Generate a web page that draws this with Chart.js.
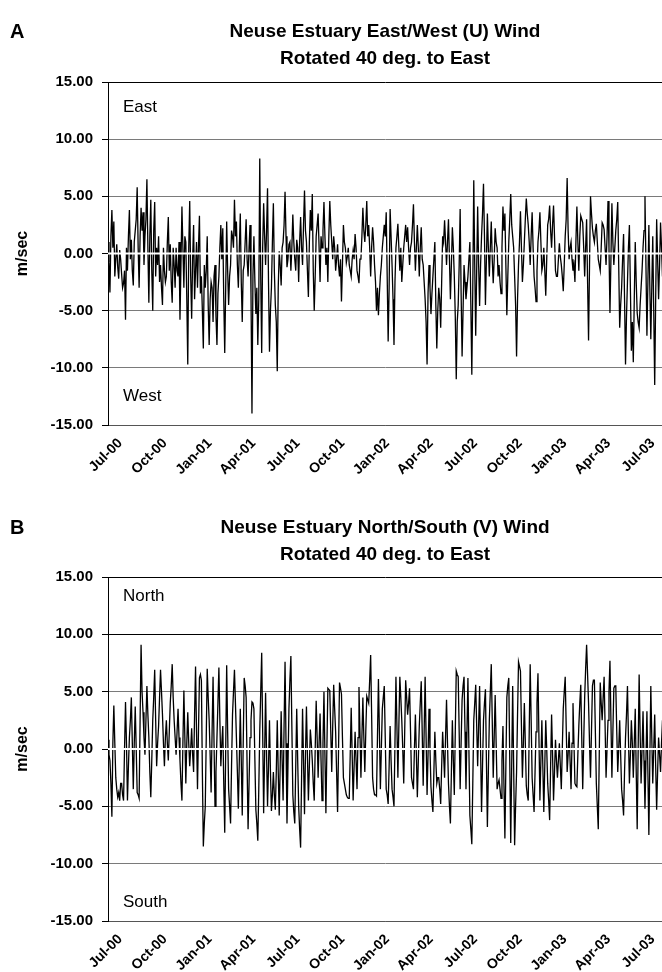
<!DOCTYPE html>
<html>
<head>
<meta charset="utf-8">
<script src="https://cdn.jsdelivr.net/npm/chart.js@4.4.1/dist/chart.umd.min.js"></script>
<style>
  html, body { margin: 0; padding: 0; background: #fff; overflow: hidden; }
  .panel { position: absolute; left: 0; width: 662px; }
  #panelA { top: 0; height: 476px; }
  #panelB { top: 495px; height: 477px; }
</style>
</head>
<body>
<div class="panel" id="panelA"><canvas id="chartU"></canvas></div>
<div class="panel" id="panelB"><canvas id="chartV"></canvas></div>
<script>
// sampling of the series: main readings every 4 days from early June 2000,
// the "mid" readings fall two days after each main one
const startDate = '2000-06-06';
const endDate = '2003-07-20';
const stepDays = 4;

const tickDates = ['2000-07-01', '2000-10-01', '2001-01-01', '2001-04-01', '2001-07-01', '2001-10-01',
  '2002-01-01', '2002-04-01', '2002-07-01', '2002-10-01', '2003-01-01', '2003-04-01', '2003-07-01'];
const tickLabels = ['Jul-00', 'Oct-00', 'Jan-01', 'Apr-01', 'Jul-01', 'Oct-01',
  'Jan-02', 'Apr-02', 'Jul-02', 'Oct-02', 'Jan-03', 'Apr-03', 'Jul-03'];

// East/West (U) component, m/sec
const uWind = [
  1.0, -3.4, 3.8, 2.8, -0.5, -1.2, 0.3, -1.8, -2.6, -5.8,
  -1.5, 3.8, 1.2, -2.8, 2.0, 5.8, -3.0, 4.0, 3.6, 1.5,
  6.5, -4.3, 4.7, -5.0, 4.5, 0.5, 1.5, -1.0, -4.5, -1.5,
  -2.0, 3.2, 0.8, -4.3, -1.0, 0.5, -2.0, -5.8, 4.1, -3.0,
  1.0, -9.7, 4.6, -5.7, 2.5, -1.5, -3.0, 3.3, -2.0, -8.3,
  -3.0, 1.5, -8.0, -2.5, -6.0, -1.0, -8.0, -2.0, 2.5, 2.2,
  -8.7, 2.8, -4.5, -1.0, 1.5, 4.7, 2.8, -3.0, 3.5, -6.0,
  -1.0, 3.0, -2.0, 2.5, -14.0, 1.5, -5.3, -8.0, 8.3, -8.7,
  4.4, -1.0, 5.7, -8.6, -3.0, 4.4, -4.5, -10.3, 0.2, -2.8,
  1.0, 5.4, -1.2, 0.8, -1.5, 3.4, -0.5, 1.2, -2.5, 3.2,
  -1.0, 5.5, 1.0, -3.8, 3.8, 5.2, -5.0, 1.5, 3.5, -2.5,
  0.5, 4.5, -1.0, -2.5, 4.6, 1.0, 1.5, -1.5, 0.8, -2.0,
  -4.2, 2.5, 0.5, -0.3, -1.0, -2.0, 0.3, 1.7, -1.5, -2.6,
  -0.5, 4.0, 1.0, 4.6, 2.5, -2.0, 2.3, -1.0, -5.0, -5.4,
  -2.0, 0.5, 2.5, 3.6, -7.7, 3.9, -1.0, -8.0, 0.5, 2.6,
  -1.5, -2.5, 0.5, 2.5, 2.3, -1.0, 1.0, 4.3, -1.5, 2.5,
  -2.0, 2.3, -1.0, -4.0, -9.7, -1.0, -5.3, -2.0, 1.0, -8.3,
  -3.0, -6.5, 1.5, 2.9, -1.0, 3.0, -4.0, 2.3, -2.0, -11.0,
  -4.5, 3.9, -9.0, -1.0, -4.0, -2.0, 1.0, -10.6, 6.4, -7.2,
  4.1, -4.6, 1.5, 6.1, -4.5, 3.5, -2.0, 2.8, -2.6, 2.2,
  0.5, -1.0, -3.5, 4.1, 3.5, -5.4, 1.0, 5.2, 1.5, -2.0,
  -9.0, -1.0, 3.7, -2.5, 1.0, 4.8, 2.5, -1.0, 3.6, -2.0,
  -4.2, 1.0, 3.6, -1.5, 0.5, -3.7, 2.5, 4.2, 0.5, 4.2,
  -1.5, -2.0, 0.9, -1.0, -3.3, 1.5, 6.6, -0.5, 1.0, -1.5,
  -2.5, 4.1, -1.5, 3.3, 2.7, -2.0, 3.0, -7.6, 5.0, 2.2,
  1.0, 2.6, -0.5, -1.5, 2.7, 2.1, -1.0, 4.6, -5.2, 4.4,
  -1.0, 2.0, 4.5, -6.5, -3.0, 1.7, -9.7, -2.5, 2.5, -8.5,
  -9.5, 1.0, -5.2, -6.5, -3.0, 0.5, 5.0, -7.2, 2.5, -7.5,
  1.5, -11.5, 3.0, -4.0, 2.7, -2.0, 1.8
];
const uWindMid = [
  -0.8, 1.5, 0.5, -2.0, 0.8, -2.2, -0.5, -3.0, -1.5, 0.5,
  1.5, -0.5, -1.5, 1.0, 3.0, 0.5, 1.5, 2.0, -1.0, 3.0,
  0.5, 1.5, -1.5, 2.0, -2.0, -1.0, -2.5, -3.0, 0.5, -2.5,
  1.0, -1.5, -2.5, 0.5, -3.0, -1.5, 1.0, -1.0, 0.5, 1.5,
  -4.0, 0.5, -2.0, -0.5, -4.0, 1.0, 0.5, -3.5, -5.0, -1.0,
  -1.5, -4.5, -4.0, -3.0, -2.0, -5.5, -3.5, 0.5, -0.5, -4.0,
  -3.0, -1.5, -2.0, 2.0, 0.5, 1.5, -1.0, 0.5, -2.5, -1.5,
  1.0, -0.5, 0.5, -3.5, -2.0, -2.5, -3.0, -4.0, -2.0, 0.5,
  1.5, 2.0, -2.5, -5.0, 1.0, -1.5, -6.0, -3.0, -1.0, 0.5,
  2.5, 1.5, -0.5, 1.0, 0.5, 1.0, -1.5, 0.5, 1.0, 0.5,
  2.5, 2.0, -1.5, 1.0, 2.0, -1.5, -2.0, 2.5, 0.5, 1.5,
  2.0, 1.5, 0.5, 1.5, 2.5, -0.5, 0.5, -0.5, -1.0, -0.5,
  -1.0, 1.0, -0.8, 0.5, -1.5, -0.5, -0.5, 0.5, -2.0, -0.5,
  1.5, 2.0, 2.5, 1.5, 0.5, 0.5, 1.0, -2.5, -3.0, -3.5,
  -1.0, 1.5, 1.5, -2.0, -3.0, 1.5, -4.0, -2.5, 1.5, 0.5,
  0.5, -1.0, 1.5, 1.0, 0.5, 0.5, 2.5, 1.0, 0.5, 0.5,
  0.5, -0.5, -2.5, -6.0, -3.5, -3.0, -3.5, -0.5, -4.5, -5.0,
  -4.0, -2.5, 1.0, 1.0, 1.0, -0.5, -1.0, 0.5, -5.5, -6.0,
  -1.0, -3.5, -5.0, -2.5, -3.0, -0.5, -4.5, -3.0, -1.0, -1.5,
  -1.0, -1.0, 3.5, 1.5, -0.5, 0.5, 0.5, -0.5, -0.5, 1.0,
  -2.0, -2.5, 0.5, 2.0, -1.0, -2.0, 3.0, 2.5, 0.5, -4.5,
  -4.0, 1.0, 0.5, -1.0, 3.0, 3.5, 1.0, 1.5, 0.5, -3.0,
  -1.5, 2.0, 1.0, -1.0, -1.5, -0.5, 3.0, 2.0, 2.5, 1.5,
  -2.0, -0.5, -0.3, -2.0, -1.0, 3.0, 2.0, 0.5, -0.5, -1.0,
  1.0, 1.0, 1.5, 3.0, 0.5, 0.5, -2.5, -1.0, 3.5, 1.5,
  2.0, 1.0, -1.0, 0.5, 2.5, 0.5, 1.5, 0.5, -0.5, 1.0,
  0.5, 3.0, -1.0, -4.5, -0.5, -4.0, -5.5, 0.5, -3.0, -6.0,
  -4.0, -2.5, -6.0, -4.5, -1.5, 2.0, -1.0, -2.5, -3.0, -3.0,
  -5.0, -4.0, -0.5, -1.0, 0.5, -0.5
];

// North/South (V) component, m/sec
const vWind = [
  0.8, -1.0, -5.9, 3.8, -2.5, -4.2, -4.5, -3.0, -4.5, 4.1,
  -4.5, 1.0, 4.5, -3.5, 3.7, -3.8, -4.3, 9.1, 3.2, -0.5,
  5.5, 1.0, -4.2, 2.5, 6.9, -1.5, 2.0, 6.9, 3.0, -1.5,
  2.5, -1.0, 4.0, 7.4, 2.5, -0.5, 3.5, -1.0, -4.5, 5.1,
  -3.0, 3.2, -1.5, 1.8, -2.0, 7.2, -3.5, 6.2, 6.0, -8.5,
  -5.0, 7.0, 2.5, -3.8, 6.3, -5.0, 1.0, 7.1, -1.5, 2.0,
  -7.3, 7.3, -3.5, -6.5, 3.0, 6.9, 1.0, -5.2, 3.5, -5.8,
  6.2, 4.5, -7.0, 1.0, 4.1, 3.5, -5.3, -8.0, 1.5, 8.4,
  -5.6, 4.9, -5.0, 2.5, -5.4, -2.0, -5.3, 2.5, -5.8, 3.3,
  -4.5, 7.6, -6.5, 3.5, 8.1, -4.0, -6.5, 3.5, -5.0, -8.6,
  3.5, -5.7, 3.7, -4.5, 1.7, -1.0, -4.5, 4.2, -2.5, 3.1,
  -4.5, 5.0, -5.6, 5.3, 5.1, -2.0, 5.6, 1.5, -5.5, 5.8,
  4.8, -2.5, -3.5, -4.2, -4.3, 3.6, -4.5, 1.5, -3.5, 5.4,
  -2.5, 4.5, -2.0, 4.6, 4.0, 8.2, -2.5, -4.0, -4.1, 6.1,
  -3.5, 3.5, 5.5, -3.5, -4.8, 2.0, -3.5, -5.0, 6.3, -2.5,
  6.3, 2.5, -3.0, 6.0, 3.0, 5.3, -2.5, -3.5, 3.0, -4.2,
  2.0, 5.9, -3.2, 6.3, -4.0, 3.5, -3.3, -5.5, 1.5, -3.0,
  -2.5, -4.8, 1.5, -2.5, 4.3, -3.0, -6.5, 2.5, -4.0, 6.8,
  6.3, -3.5, 4.3, 6.3, -3.5, 6.2, -5.8, -8.3, 2.5, 5.6,
  -1.5, 5.5, -5.5, 2.5, 5.2, -6.8, 2.5, 7.4, -2.5, 4.7,
  -3.5, -2.7, -4.3, 2.0, -7.8, 4.5, 6.2, -8.2, 5.5, -8.4,
  -2.0, 7.6, 6.8, -2.5, 4.0, -3.2, -4.5, 7.4, -2.5, -5.5,
  1.5, 6.6, -4.5, 2.5, -5.5, 2.5, -3.0, -6.2, 3.0, -4.5,
  0.8, -2.5, 0.5, -3.5, 3.5, 6.3, -2.0, 1.5, -3.5, 4.0,
  -3.0, -3.3, 2.0, 5.6, -3.5, 4.5, 9.1, 4.0, -2.5, 5.5,
  6.0, -3.0, -7.0, 5.8, 2.5, 6.3, -2.5, 2.5, 7.7, -2.5,
  5.3, 5.5, -2.0, 2.5, -3.5, -5.8, 1.0, 5.5, -3.0, 2.5,
  -2.5, 3.5, -7.0, 6.5, -3.0, 3.3, -5.2, 3.3, -7.5, 5.5,
  -3.0, 3.0, -5.3, 1.0, -2.0, 2.5, -1.5
];
const vWindMid = [
  -0.5, -3.0, 0.5, 0.5, -3.5, -3.8, -3.0, -4.0, 0.0, 0.5,
  -1.5, 2.5, 0.5, 0.5, 0.0, -4.0, 2.5, 5.0, 1.0, 2.5,
  3.0, -2.0, -1.0, 4.5, 2.5, 0.5, 4.5, 5.0, 0.5, 1.0,
  0.5, 1.5, 5.5, 4.5, 1.0, 1.5, 1.0, -3.0, 0.5, 1.0,
  0.5, 0.5, 0.0, -0.5, 3.0, 1.5, 1.5, 6.5, -2.0, -6.5,
  1.0, 4.5, -0.5, 1.5, 0.5, -2.0, 4.0, 2.5, 0.5, -3.0,
  0.0, 1.5, -5.0, -1.5, 5.0, 4.0, -2.0, -1.0, -1.0, 0.5,
  5.5, -1.5, -3.0, 2.5, 4.0, -1.0, -6.5, -3.5, 5.0, 1.5,
  -0.5, -0.5, -1.5, -2.0, -4.0, -4.0, -2.0, -2.0, -1.5, -1.0,
  2.0, 0.5, -1.5, 6.0, 2.0, -5.5, -1.5, -1.0, -7.0, -2.5,
  -1.0, -0.5, -0.5, -1.5, 0.5, -3.0, 0.0, 1.0, 0.5, -1.0,
  0.5, -0.5, 0.0, 5.2, 1.5, 2.0, 3.5, -2.0, 0.0, 5.3,
  1.0, -3.0, -4.0, -4.3, -0.5, -0.5, -1.5, -1.0, 1.0, 1.5,
  1.0, 1.0, 1.5, 4.3, 6.0, 3.0, -3.5, -4.0, 1.0, 1.5,
  0.0, 4.5, 1.0, -4.0, -1.5, -1.0, -4.2, 0.5, 2.0, 2.0,
  4.5, 0.0, 1.5, 4.5, 4.0, 1.5, -3.0, 0.0, -0.5, -1.0,
  4.0, 1.5, 1.5, 1.0, -0.5, 0.0, -4.5, -2.0, -1.0, -2.5,
  -3.5, -1.5, -0.5, 1.0, 0.5, -5.0, -2.0, -1.0, 1.5, 6.5,
  1.5, 0.5, 5.5, 1.5, 1.5, 0.0, -7.0, -3.0, 4.0, 2.0,
  2.0, 0.0, -1.5, 4.0, -1.0, -2.0, 5.0, 2.5, 1.0, 0.5,
  -3.0, -3.5, -1.0, -3.0, -1.5, 5.5, -1.0, -1.5, -1.5, -5.0,
  3.0, 7.2, 2.0, 0.5, 0.5, -4.0, 1.5, 2.5, -4.0, -2.0,
  4.0, 1.0, -1.0, -1.5, -1.5, 0.0, -4.5, -1.5, -0.5, -2.0,
  -1.0, -1.0, -1.5, 0.0, 5.0, 2.0, -0.5, -1.0, 0.5, 0.5,
  -3.2, -0.5, 4.0, 1.0, 0.5, 7.0, 6.5, 0.5, 1.5, 6.0,
  1.5, -5.0, -0.5, 4.0, 4.5, 2.0, 0.0, 5.0, 2.5, 1.5,
  5.5, 1.5, 0.0, -0.5, -4.5, -2.0, 3.0, 1.0, -0.5, 0.5,
  0.5, -2.0, 0.0, 1.5, 0.0, -1.0, -1.0, -2.0, -1.0, 1.0,
  0.0, -1.5, -2.0, -0.5, 0.5, 0.0
];

const FONT = '"Liberation Sans", Arial, sans-serif';
const DAY = 86400000;
const origin = Date.parse('2000-07-01');
const dayNum = s => (Date.parse(s) - origin) / DAY;
const tickDays = tickDates.map(dayNum);

// titles, panel letter and the direction notes inside the plot
const panelText = {
  id: 'panelText',
  afterDraw(chart, args, opts) {
    const { ctx, chartArea, scales } = chart;
    ctx.save();
    ctx.fillStyle = '#000';
    ctx.textBaseline = 'middle';
    ctx.textAlign = 'left';
    ctx.font = 'bold 20px ' + FONT;
    ctx.fillText(opts.letter, 10, opts.titleY);
    ctx.textAlign = 'center';
    ctx.font = 'bold 19px ' + FONT;
    const cx = (chartArea.left + chartArea.right) / 2;
    opts.title.forEach((t, i) => ctx.fillText(t, cx, opts.titleY + i * 27));
    ctx.textAlign = 'left';
    ctx.font = '17px ' + FONT;
    opts.notes.forEach(n => ctx.fillText(n.text, chartArea.left + 15, scales.y.getPixelForValue(n.y)));
    ctx.restore();
  }
};

function makeChart(id, values, midValues, text, darkLines) {
  const x0 = dayNum(startDate);
  const x1 = dayNum(endDate);
  const points = values.flatMap((v, i) => {
    const p = [{ x: x0 + i * stepDays, y: v }];
    if (i < midValues.length) p.push({ x: x0 + i * stepDays + stepDays / 2, y: midValues[i] });
    return p;
  });
  const ctx = document.getElementById(id).getContext('2d');
  return new Chart(ctx, {
    type: 'line',
    data: {
      datasets: [{
        data: [{ x: x0, y: 0 }, { x: x1, y: 0 }],
        borderColor: '#fff',
        borderWidth: 2,
        pointRadius: 0,
        order: 0
      }, {
        data: points,
        borderColor: '#000',
        borderWidth: 1.3,
        pointRadius: 0,
        tension: 0,
        order: 1
      }]
    },
    options: {
      responsive: true,
      maintainAspectRatio: false,
      animation: false,
      events: [],
      layout: { padding: { top: 82, right: 0, left: 0, bottom: 0 } },
      plugins: {
        legend: { display: false },
        tooltip: { enabled: false },
        panelText: text
      },
      scales: {
        x: {
          type: 'linear',
          min: x0,
          max: x1,
          grid: { display: false },
          border: { display: true, color: '#555', width: 1 },
          afterBuildTicks: s => { s.ticks = tickDays.map(v => ({ value: v })); },
          afterFit: s => { s.height = 51; s.paddingRight = 0; },
          ticks: {
            autoSkip: false,
            minRotation: 45,
            maxRotation: 45,
            padding: 2,
            color: '#000',
            font: { family: FONT, size: 14, weight: 'bold' },
            callback: (v, i) => tickLabels[i]
          }
        },
        y: {
          min: -15,
          max: 15,
          afterFit: s => { s.width = 108; },
          ticks: {
            stepSize: 5,
            padding: 9,
            color: '#000',
            font: { family: FONT, size: 15, weight: 'bold' },
            callback: v => v.toFixed(2)
          },
          grid: {
            color: c => (c.tick && darkLines.includes(c.tick.value)) ? '#000' : '#7a7a7a',
            tickColor: '#000',
            tickLength: 6,
            lineWidth: 1
          },
          border: { display: true, color: '#000', width: 1 },
          title: {
            display: true,
            text: 'm/sec',
            color: '#000',
            font: { family: FONT, size: 16, weight: 'bold' },
            padding: { top: 13 }
          }
        }
      }
    },
    plugins: [panelText]
  });
}

makeChart('chartU', uWind, uWindMid, {
  letter: 'A',
  titleY: 32,
  title: ['Neuse Estuary East/West (U) Wind', 'Rotated 40 deg. to East'],
  notes: [{ text: 'East', y: 12.8 }, { text: 'West', y: -12.5 }]
}, [15]);

makeChart('chartV', vWind, vWindMid, {
  letter: 'B',
  titleY: 33,
  title: ['Neuse Estuary North/South (V) Wind', 'Rotated 40 deg. to East'],
  notes: [{ text: 'North', y: 13.3 }, { text: 'South', y: -13.4 }]
}, [15, 10]);
</script>
</body>
</html>
